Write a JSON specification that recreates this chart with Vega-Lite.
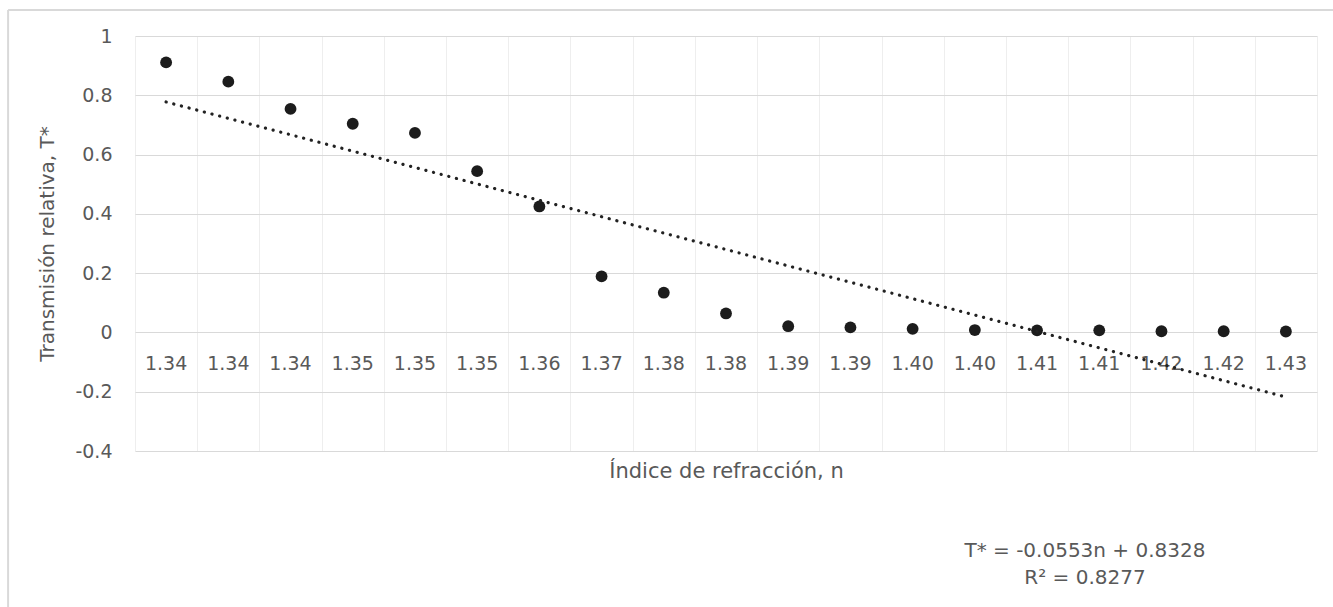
{
  "$schema": "https://vega.github.io/schema/vega-lite/v6.json",
  "width": 1182,
  "height": 415,
  "autosize": {"type": "none"},
  "padding": {"left": 135, "top": 36, "right": 16, "bottom": 156},
  "background": "white",
  "config": {"view": {"stroke": null}, "font": "DejaVu Sans"},
  "datasets": {
    "points": [
      {"i": 1, "t": 0.911, "label": "1.34"},
      {"i": 2, "t": 0.846, "label": "1.34"},
      {"i": 3, "t": 0.754, "label": "1.34"},
      {"i": 4, "t": 0.704, "label": "1.35"},
      {"i": 5, "t": 0.673, "label": "1.35"},
      {"i": 6, "t": 0.544, "label": "1.35"},
      {"i": 7, "t": 0.425, "label": "1.36"},
      {"i": 8, "t": 0.189, "label": "1.37"},
      {"i": 9, "t": 0.134, "label": "1.38"},
      {"i": 10, "t": 0.064, "label": "1.38"},
      {"i": 11, "t": 0.021, "label": "1.39"},
      {"i": 12, "t": 0.017, "label": "1.39"},
      {"i": 13, "t": 0.012, "label": "1.40"},
      {"i": 14, "t": 0.008, "label": "1.40"},
      {"i": 15, "t": 0.007, "label": "1.41"},
      {"i": 16, "t": 0.007, "label": "1.41"},
      {"i": 17, "t": 0.004, "label": "1.42"},
      {"i": 18, "t": 0.004, "label": "1.42"},
      {"i": 19, "t": 0.003, "label": "1.43"}
    ],
    "trend": [
      {"i": 1, "t": 0.7775},
      {"i": 19, "t": -0.2179}
    ]
  },
  "layer": [
    {
      "data": {"name": "points"},
      "mark": {"type": "text", "dy": 32, "fontSize": 19, "color": "#595959"},
      "encoding": {
        "x": {
          "field": "i",
          "type": "quantitative",
          "scale": {"domain": [0.5, 19.5], "nice": false, "zero": false},
          "axis": {
            "values": [0.5, 1, 1.5, 2, 2.5, 3, 3.5, 4, 4.5, 5, 5.5, 6, 6.5, 7, 7.5, 8, 8.5, 9, 9.5, 10, 10.5, 11, 11.5, 12, 12.5, 13, 13.5, 14, 14.5, 15, 15.5, 16, 16.5, 17, 17.5, 18, 18.5, 19, 19.5],
            "labels": false,
            "ticks": false,
            "domain": false,
            "grid": true,
            "gridColor": "#eeeeee",
            "gridWidth": 1,
            "title": "Índice de refracción, n",
            "titleFontSize": 21,
            "titleFontWeight": "normal",
            "titleColor": "#595959",
            "titlePadding": 9
          }
        },
        "y": {
          "datum": 0,
          "type": "quantitative",
          "scale": {"domain": [-0.4, 1], "nice": false},
          "axis": {
            "values": [-0.4, -0.2, 0, 0.2, 0.4, 0.6, 0.8, 1],
            "labelExpr": "'' + round(datum.value*10)/10",
            "labelFontSize": 19,
            "labelColor": "#595959",
            "labelPadding": 23,
            "ticks": false,
            "domain": false,
            "grid": true,
            "gridColor": "#d9d9d9",
            "gridWidth": 1,
            "title": "Transmisión relativa, T*",
            "titleFontSize": 20,
            "titleFontWeight": "normal",
            "titleColor": "#595959",
            "titlePadding": 17
          }
        },
        "text": {"field": "label"}
      }
    },
    {
      "data": {"values": [{}]},
      "mark": {"type": "rule", "color": "#d9d9d9", "strokeWidth": 2},
      "encoding": {
        "x": {"datum": -1.54, "type": "quantitative"},
        "y": {"datum": 1.0876, "type": "quantitative"},
        "y2": {"datum": -1.2}
      }
    },
    {
      "data": {"values": [{}]},
      "mark": {"type": "rule", "color": "#d9d9d9", "strokeWidth": 2},
      "encoding": {
        "y": {"datum": 1.0876, "type": "quantitative"},
        "x": {"datum": -1.54, "type": "quantitative"},
        "x2": {"datum": 21}
      }
    },
    {
      "data": {"name": "points"},
      "mark": {"type": "point", "filled": true, "size": 140, "color": "#1c1c1c", "opacity": 1},
      "encoding": {
        "x": {"field": "i", "type": "quantitative"},
        "y": {"field": "t", "type": "quantitative"}
      }
    },
    {
      "data": {"name": "trend"},
      "mark": {"type": "line", "strokeDash": [0.1, 7.8], "strokeCap": "round", "strokeWidth": 3.2, "color": "#222222"},
      "encoding": {
        "x": {"field": "i", "type": "quantitative"},
        "y": {"field": "t", "type": "quantitative"}
      }
    },
    {
      "data": {"values": [{}]},
      "mark": {"type": "text", "text": ["T* = -0.0553n + 0.8328", "R² = 0.8277"], "lineHeight": 27, "fontSize": 20, "color": "#595959", "align": "center", "baseline": "middle"},
      "encoding": {
        "x": {"datum": 15.77, "type": "quantitative"},
        "y": {"datum": -0.738, "type": "quantitative"}
      }
    }
  ]
}
